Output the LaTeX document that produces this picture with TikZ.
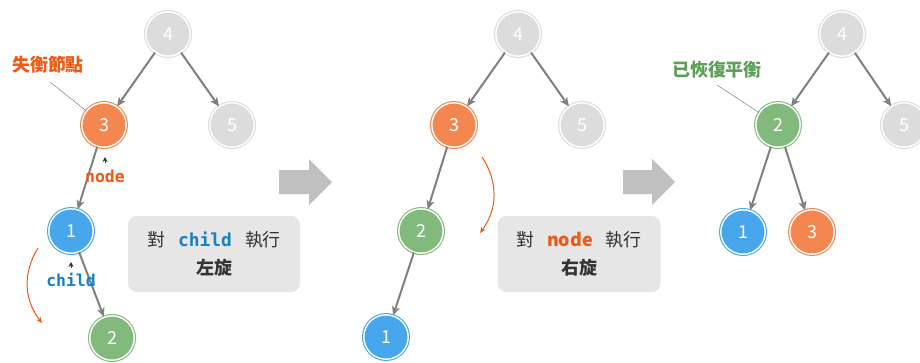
\documentclass[tikz,border=0pt]{standalone}
\usepackage{fontspec}
\setmainfont{Noto Sans CJK TC}
\newfontfamily\codefont{DejaVu Sans Mono}
\usetikzlibrary{arrows.meta}
\definecolor{ndGrayC}{RGB}{220,220,220}
\definecolor{ndOrangeC}{RGB}{244,135,80}
\definecolor{ndBlueC}{RGB}{72,166,236}
\definecolor{ndGreenC}{RGB}{130,186,126}
\definecolor{txtOrange}{RGB}{240,88,20}
\definecolor{txtBlue}{RGB}{24,128,200}
\definecolor{txtGreen}{RGB}{92,160,88}
\definecolor{edgeGray}{RGB}{128,128,128}
\definecolor{boxGray}{RGB}{230,230,230}
\definecolor{bigArrowC}{RGB}{192,192,192}
\definecolor{txtDark}{RGB}{51,51,51}
\definecolor{leadGray}{RGB}{130,130,130}
\tikzset{
  treenode/.style={circle, minimum size=44.4bp, inner sep=0pt, line width=1.1bp,
    double=white, double distance=1.4bp, text=white, font=\fontsize{18}{18}\selectfont},
  ndgray/.style={treenode, draw=ndGrayC, fill=ndGrayC},
  ndorange/.style={treenode, draw=ndOrangeC, fill=ndOrangeC},
  ndblue/.style={treenode, draw=ndBlueC, fill=ndBlueC},
  ndgreen/.style={treenode, draw=ndGreenC, fill=ndGreenC},
  tedge/.style={draw=edgeGray, line width=2bp, -{Stealth[length=9bp,width=8bp,inset=2.5bp]}},
  infobox/.style={rounded corners=9bp, fill=boxGray, minimum width=172bp, minimum height=76bp,
    align=center, text=txtDark, font=\fontsize{18}{28}\selectfont, inner sep=0pt},
  rotarrow/.style={draw=txtOrange, line width=1bp, -{Stealth[length=6bp,width=5bp]}},
  leader/.style={draw=leadGray, line width=0.5bp},
  caret/.style={draw=txtDark, line width=0.8bp, -{Stealth[length=5bp,width=5bp]}},
  bigarrow/.style={fill=bigArrowC},
  codelabel/.style={font=\codefont\bfseries\fontsize{16.5}{16.5}\selectfont, inner sep=1bp},
  cjklabel/.style={font=\bfseries\fontsize{18}{18}\selectfont, inner sep=1bp}
}
\begin{document}
\begin{tikzpicture}[x=1bp, y=-1bp]
\clip (0,0) rectangle (920,362);
\fill[white] (0,0) rectangle (920,362);

% ---------- panel 1 ----------
\node[ndgray]   (a4) at (168,34)  {4};
\node[ndorange] (a3) at (104,125) {3};
\node[ndgray]   (a5) at (232,125) {5};
\node[ndblue]   (a1) at (71,231)  {1};
\node[ndgreen]  (a2) at (112,338) {2};
\draw[tedge] (a4) -- (a3);
\draw[tedge] (a4) -- (a5);
\draw[tedge] (a3) -- (a1);
\draw[tedge] (a1) -- (a2);

\node[cjklabel, text=txtOrange] (lbl1) at (48,65) {失衡節點};
\coordinate (k1) at (50,82);
\draw[leader] (k1) -- (a3);

\node[codelabel, text=txtOrange] (lnode) at (105,176) {node};
\coordinate (cn0) at (105,163);
\coordinate (cn1) at (105,157);
\draw[caret] (cn0) -- (cn1);

\node[codelabel, text=txtBlue] (lchild) at (71,280) {child};
\coordinate (cc0) at (71,268);
\coordinate (cc1) at (71,262);
\draw[caret] (cc0) -- (cc1);

\coordinate (r1s) at (38,248);
\coordinate (r1e) at (42,323);
\draw[rotarrow] (r1s) to[bend right=35] (r1e);

\node[infobox] (box1) at (214,254)
  {對\hspace{13bp}{\codefont\bfseries\color{txtBlue}child}\hspace{13bp}執行\\{\bfseries 左旋}};

\fill[bigarrow] (279,170) -- (309,170) -- (309,159) -- (332,182) -- (309,205) -- (309,194) -- (279,194) -- cycle;

% ---------- panel 2 ----------
\node[ndgray]   (b4) at (518,34)  {4};
\node[ndorange] (b3) at (454,125) {3};
\node[ndgray]   (b5) at (582,125) {5};
\node[ndgreen]  (b2) at (421,231) {2};
\node[ndblue]   (b1) at (386,337) {1};
\draw[tedge] (b4) -- (b3);
\draw[tedge] (b4) -- (b5);
\draw[tedge] (b3) -- (b2);
\draw[tedge] (b2) -- (b1);

\coordinate (r2s) at (482,157);
\coordinate (r2e) at (480,233);
\draw[rotarrow] (r2s) to[bend left=35] (r2e);

\node[infobox, minimum width=163bp] (box2) at (579,254)
  {對\hspace{13bp}{\bfseries\color{txtOrange}node}\hspace{13bp}執行\\{\bfseries 右旋}};

\fill[bigarrow] (623,170) -- (652,170) -- (652,159) -- (675,182) -- (652,205) -- (652,194) -- (623,194) -- cycle;

% ---------- panel 3 ----------
\node[ndgray]   (c4) at (842,34)  {4};
\node[ndgreen]  (c2) at (778,125) {2};
\node[ndgray]   (c5) at (904,125) {5};
\node[ndblue]   (c1) at (743,232) {1};
\node[ndorange] (c3) at (812,232) {3};
\draw[tedge] (c4) -- (c2);
\draw[tedge] (c4) -- (c5);
\draw[tedge] (c2) -- (c1);
\draw[tedge] (c2) -- (c3);

\node[cjklabel, text=txtGreen] (lbl3) at (717,70) {已恢復平衡};
\coordinate (k3) at (717,85);
\draw[leader] (k3) -- (c2);
\end{tikzpicture}
\end{document}
